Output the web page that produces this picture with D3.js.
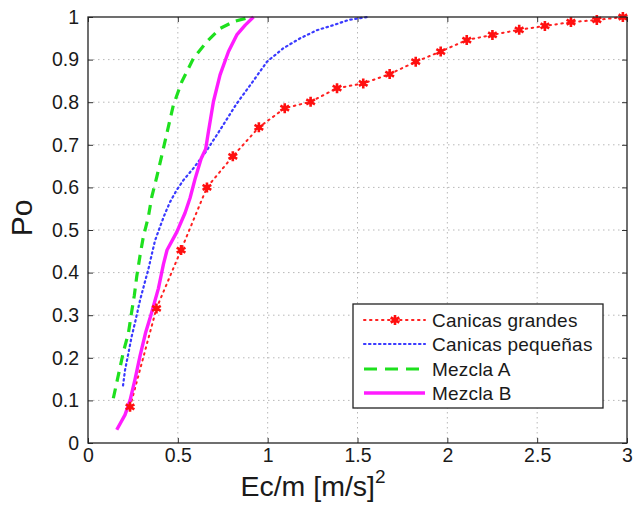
<!DOCTYPE html>
<html>
<head>
<meta charset="utf-8">
<script src="https://cdn.jsdelivr.net/npm/d3@7"></script>
<style>
  body { margin: 0; background: #fff; }
  svg { display: block; }
  text { font-family: "Liberation Sans", Arial, Helvetica, sans-serif; fill: #1a1a1a; }
</style>
</head>
<body>
<svg id="chart" width="637" height="506"></svg>
<script>
// ---- data ----
const seriesNames = ["Canicas grandes", "Canicas pequeñas", "Mezcla A", "Mezcla B"];

const grandesX = [0.234, 0.381, 0.518, 0.662, 0.806, 0.951, 1.095, 1.239, 1.386, 1.532, 1.679, 1.824, 1.963, 2.108, 2.251, 2.400, 2.543, 2.688, 2.832, 2.977];
const grandesY = [0.085, 0.316, 0.453, 0.600, 0.673, 0.741, 0.786, 0.801, 0.833, 0.844, 0.866, 0.895, 0.919, 0.946, 0.958, 0.970, 0.979, 0.988, 0.993, 1.000];

const pequenasX = [0.195, 0.206, 0.225, 0.243, 0.262, 0.290, 0.318, 0.336, 0.355, 0.373, 0.401, 0.429, 0.457, 0.494, 0.531, 0.587, 0.650, 0.717, 0.828, 0.903, 0.996, 1.088, 1.181, 1.274, 1.367, 1.450, 1.554];
const pequenasY = [0.135, 0.171, 0.211, 0.250, 0.283, 0.336, 0.380, 0.408, 0.443, 0.475, 0.508, 0.539, 0.566, 0.594, 0.617, 0.645, 0.680, 0.723, 0.797, 0.840, 0.895, 0.927, 0.950, 0.969, 0.981, 0.993, 1.000];

const mezclaAX = [0.141, 0.173, 0.197, 0.225, 0.240, 0.258, 0.271, 0.290, 0.308, 0.336, 0.355, 0.383, 0.420, 0.475, 0.522, 0.587, 0.661, 0.735, 0.810, 0.903];
const mezclaAY = [0.105, 0.167, 0.214, 0.258, 0.300, 0.347, 0.390, 0.441, 0.484, 0.531, 0.578, 0.625, 0.692, 0.793, 0.848, 0.903, 0.942, 0.973, 0.989, 1.000];

const mezclaBX = [0.160, 0.206, 0.234, 0.262, 0.290, 0.320, 0.350, 0.392, 0.420, 0.440, 0.494, 0.540, 0.568, 0.596, 0.630, 0.655, 0.670, 0.698, 0.735, 0.782, 0.828, 0.875, 0.921];
const mezclaBY = [0.031, 0.066, 0.100, 0.150, 0.205, 0.258, 0.300, 0.363, 0.420, 0.453, 0.495, 0.540, 0.575, 0.620, 0.668, 0.690, 0.730, 0.801, 0.864, 0.919, 0.958, 0.981, 1.000];

const xTicks = [0, 0.5, 1, 1.5, 2, 2.5, 3];
const xTickLabels = ["0", "0.5", "1", "1.5", "2", "2.5", "3"];
const yTicks = [0, 0.1, 0.2, 0.3, 0.4, 0.5, 0.6, 0.7, 0.8, 0.9, 1];
const yTickLabels = ["0", "0.1", "0.2", "0.3", "0.4", "0.5", "0.6", "0.7", "0.8", "0.9", "1"];

// ---- layout ----
const svg = d3.select("#chart");
const L = 88, R = 627, T = 17, B = 443;
const x = d3.scaleLinear().domain([0, 3]).range([L, R]);
const y = d3.scaleLinear().domain([0, 1]).range([B, T]);

// gridlines
const grid = svg.append("g");
grid.selectAll("line.gx").data(xTicks.slice(1, -1)).join("line")
  .attr("x1", d => x(d)).attr("x2", d => x(d)).attr("y1", T).attr("y2", B)
  .attr("stroke", "#b8b8b8").attr("stroke-width", 1).attr("stroke-dasharray", "1.5,3.5");
grid.selectAll("line.gy").data(yTicks.slice(1, -1)).join("line")
  .attr("y1", d => y(d)).attr("y2", d => y(d)).attr("x1", L).attr("x2", R)
  .attr("stroke", "#b8b8b8").attr("stroke-width", 1).attr("stroke-dasharray", "1.5,3.5");

// axes
const fmtX = (d, i) => xTickLabels[i];
const fmtY = (d, i) => yTickLabels[i];
const xAxis = svg.append("g").attr("transform", `translate(0,${B})`)
  .call(d3.axisBottom(x).tickValues(xTicks).tickFormat(fmtX).tickSizeInner(-5).tickSizeOuter(0).tickPadding(5));
const yAxis = svg.append("g").attr("transform", `translate(${L},0)`)
  .call(d3.axisLeft(y).tickValues(yTicks).tickFormat(fmtY).tickSizeInner(-5).tickSizeOuter(0).tickPadding(9));
svg.append("g").attr("transform", `translate(0,${T})`)
  .call(d3.axisTop(x).tickValues(xTicks).tickFormat("").tickSizeInner(-5).tickSizeOuter(0));
svg.append("g").attr("transform", `translate(${R},0)`)
  .call(d3.axisRight(y).tickValues(yTicks).tickFormat("").tickSizeInner(-5).tickSizeOuter(0));
svg.selectAll(".domain").remove();
svg.selectAll(".tick line").attr("stroke", "#333").attr("stroke-width", 1);
xAxis.selectAll("text").attr("font-size", 19.5).attr("fill", "#1a1a1a").attr("font-family", "Liberation Sans, Arial, sans-serif");
yAxis.selectAll("text").attr("font-size", 19.5).attr("fill", "#1a1a1a").attr("font-family", "Liberation Sans, Arial, sans-serif");

// series lines
const line = d3.line().x(d => x(d[0])).y(d => y(d[1]));
const zipPts = (xs, ys) => xs.map((v, i) => [v, ys[i]]);

const grandes = zipPts(grandesX, grandesY);
const pequenas = zipPts(pequenasX, pequenasY);
const mezclaA = zipPts(mezclaAX, mezclaAY);
const mezclaB = zipPts(mezclaBX, mezclaBY);

const styles = [
  { color: "#ff2020", width: 2, dash: "1.5,4.5" },
  { color: "#3a3aff", width: 2.2, dash: "1.5,3.5" },
  { color: "#1ee01e", width: 3.2, dash: "10,7" },
  { color: "#ff1cff", width: 3.4, dash: null }
];
const plot = svg.append("g");
[grandes, pequenas, mezclaA, mezclaB].forEach((pts, i) => {
  const s = styles[i];
  const p = plot.append("path").datum(pts).attr("d", line)
    .attr("fill", "none").attr("stroke", s.color).attr("stroke-width", s.width)
    .attr("stroke-linecap", s.dash && i < 2 ? "round" : "butt")
    .attr("stroke-linejoin", "round");
  if (s.dash) p.attr("stroke-dasharray", s.dash);
});

// asterisk markers for Canicas grandes
const star = d3.symbol().type(d3.symbolAsterisk).size(70);
plot.selectAll("path.mk").data(grandes).join("path")
  .attr("transform", d => `translate(${x(d[0])},${y(d[1])})`)
  .attr("d", star).attr("fill", "none").attr("stroke", "#ff1010").attr("stroke-width", 2.6);
plot.selectAll("circle.mk").data(grandes).join("circle")
  .attr("cx", d => x(d[0])).attr("cy", d => y(d[1])).attr("r", 2.6).attr("fill", "#ff1010");

// frame
svg.append("rect").attr("x", L).attr("y", T).attr("width", R - L).attr("height", B - T)
  .attr("fill", "none").attr("stroke", "#222").attr("stroke-width", 1.3);

// axis titles
const xt = svg.append("text").attr("x", 313).attr("y", 496).attr("text-anchor", "middle").attr("font-size", 28.5);
xt.append("tspan").text("Ec/m [m/s]");
xt.append("tspan").attr("dy", -13).attr("font-size", 19).text("2");
svg.append("text").attr("transform", "translate(32,218) rotate(-90)")
  .attr("text-anchor", "middle").attr("font-size", 30).text("Po");

// legend
const lg = svg.append("g");
lg.append("rect").attr("x", 353).attr("y", 304).attr("width", 250).attr("height", 104)
  .attr("fill", "#fff").attr("stroke", "#222").attr("stroke-width", 1.3);
const rowY = [320, 344, 369, 393];
seriesNames.forEach((name, i) => {
  const s = styles[i];
  const ln = lg.append("line").attr("x1", 364).attr("x2", 425).attr("y1", rowY[i]).attr("y2", rowY[i])
    .attr("stroke", s.color).attr("stroke-width", s.width)
    .attr("stroke-linecap", s.dash && i < 2 ? "round" : "butt");
  if (s.dash) ln.attr("stroke-dasharray", i === 2 ? "13,8" : s.dash);
  if (i === 0) {
    lg.append("path").attr("transform", `translate(395,${rowY[i]})`).attr("d", star)
      .attr("fill", "none").attr("stroke", "#ff1010").attr("stroke-width", 2.6);
    lg.append("circle").attr("cx", 395).attr("cy", rowY[i]).attr("r", 2.6).attr("fill", "#ff1010");
  }
  lg.append("text").attr("x", 432).attr("y", rowY[i] + 6.5).attr("font-size", 19).attr("letter-spacing", 0.2).text(name);
});
</script>
</body>
</html>
